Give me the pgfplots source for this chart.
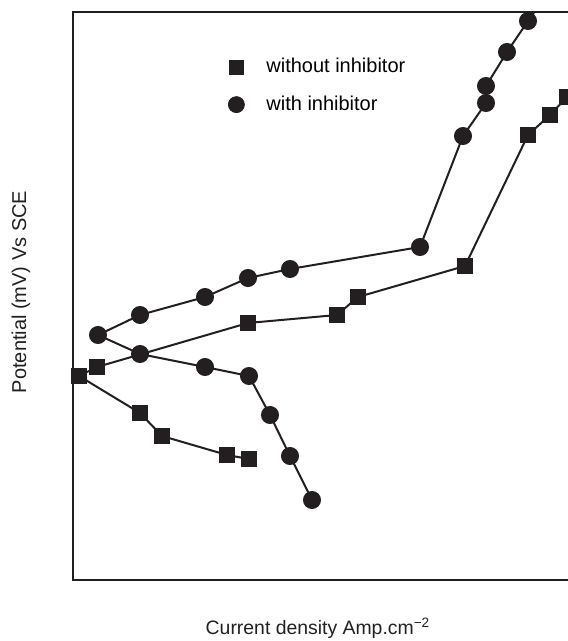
\documentclass[border=0pt]{standalone}
\usepackage{pgfplots}
\pgfplotsset{compat=1.18}
\usepackage{fontspec}
\setmainfont{Liberation Sans}
\definecolor{ink}{RGB}{35,31,32}
\begin{document}
\begin{tikzpicture}[x=1pt,y=1pt]
\useasboundingbox (0,0) rectangle (283.5,320.5);
\begin{axis}[
  scale only axis,
  width=248.5pt, height=284pt,
  at={(36.5pt,30.5pt)}, anchor=origin,
  xmin=73, xmax=570, ymin=61, ymax=629,
  xtick=\empty, ytick=\empty,
  axis line style={ink, line width=1pt},
  clip=true,
  legend style={draw=none, fill=none, font=\fontsize{10}{12}\selectfont,
    at={(axis cs:228,587)}, anchor=north west,
    row sep=6pt, column sep=9pt, inner sep=0pt},
  legend cell align=left,
]
\addlegendimage{only marks, mark=square*, mark size=3.4pt, ink}
\addlegendentry{without inhibitor}
\addlegendimage{only marks, mark=*, mark size=4pt, ink}
\addlegendentry{with inhibitor}
% without inhibitor (squares)
\addplot[ink, line width=1pt, mark=square*, mark size=3.4pt, mark options={solid}]
coordinates {
(249,182) (227,186) (162,205) (140,228) (79,265) (97,274) (248,318) (337,326) (358,344) (465,375) (528,506) (550,526) (567,544)
};
\addplot[ink, line width=1pt, no marks] coordinates {(567,544) (590,568)};
% with inhibitor (circles)
\addplot[ink, line width=1pt, mark=*, mark size=4pt]
coordinates {
(312,141) (290,185) (270,226) (249,265) (205,274) (140,287) (98,306) (140,326) (205,344) (248,363) (290,372) (420,394) (463,505) (486,538) (486,555) (507,589) (528,620)
};
\addplot[ink, line width=1pt, no marks] coordinates {(528,620) (544,643)};
\end{axis}
\node[anchor=base, font=\fontsize{9.7}{12}\selectfont, text=ink] at (159,3) {Current density Amp.cm\textsuperscript{−2}};
\node[rotate=90, font=\fontsize{10}{12}\selectfont, text=ink] at (10.5,174.5) {Potential (mV) Vs SCE};
\end{tikzpicture}
\end{document}
